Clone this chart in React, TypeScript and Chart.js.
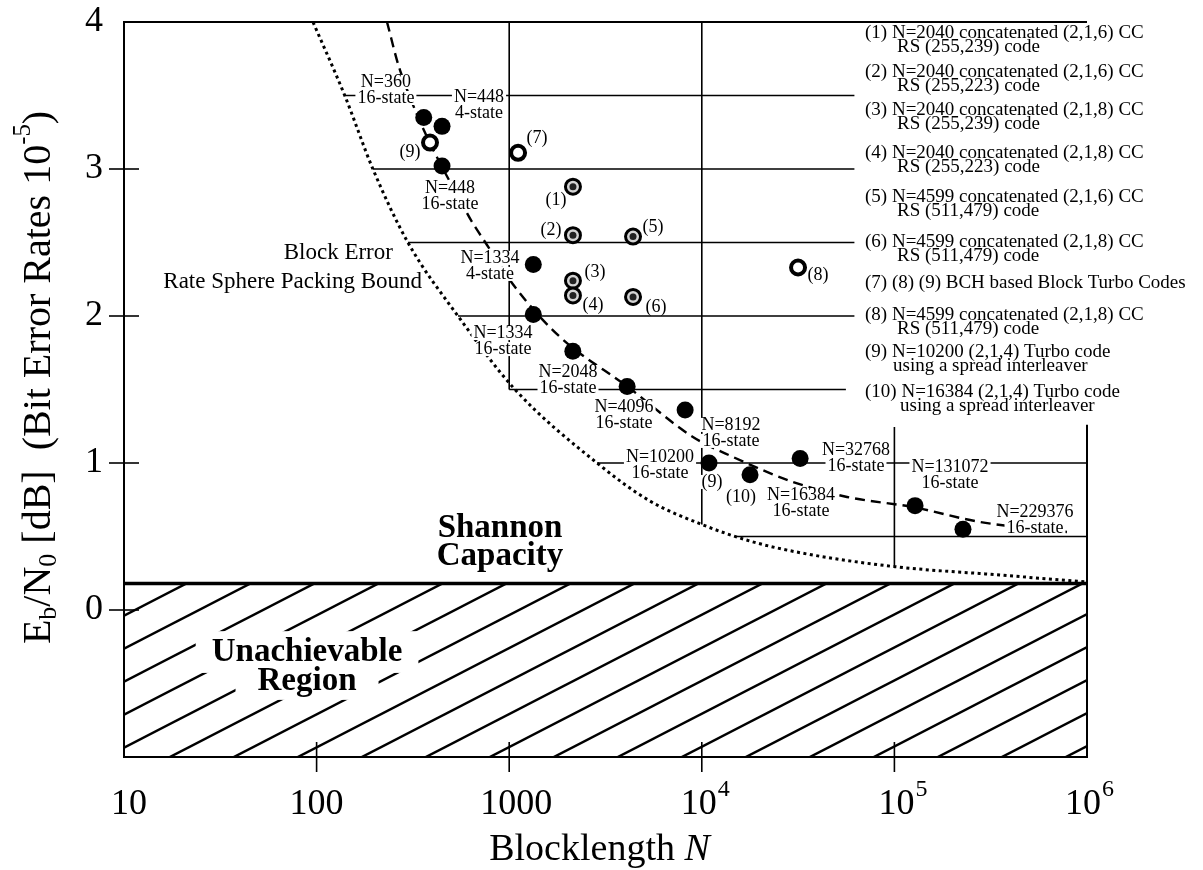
import React, { useEffect, useRef } from 'react';
import { Chart, registerables } from 'chart.js';

Chart.register(...registerables);

const SERIF = '"Liberation Serif", "Times New Roman", "DejaVu Serif", serif';

// ---------- axes ----------
const xTickValues = [10, 100, 1000, 10000, 100000, 1000000];
const xTickBase = ['10', '100', '1000', '10', '10', '10'];
const xTickExp = ['', '', '', '4', '5', '6'];
const xTickShift = [5, 0, 7, -3, 2, -4];
const yTickValues = [0, 1, 2, 3, 4];
const xTickMarks = [100, 1000, 10000, 100000];
const yTickMarks = [0, 1, 2, 3];

// ---------- Shannon capacity ----------
const shannonDb = 0.18;

// ---------- block error rate sphere packing bound (dotted) ----------
const boundN = [95.8, 140, 196, 298, 542, 1072, 2858, 5383, 10000, 17780, 32360, 100000, 353000, 1000000];
const boundDb = [4.0, 3.5, 3.0, 2.5, 2.0, 1.5, 1.0, 0.741, 0.582, 0.469, 0.39, 0.295, 0.238, 0.19];

// ---------- 16-state turbo code trend (dashed) ----------
const trendN = [232, 271, 604, 767, 1072, 1837, 4140, 8995, 14520, 29770, 56750, 125000, 278000, 787000];
const trendDb = [4.0, 3.673, 2.7, 2.483, 2.197, 1.857, 1.517, 1.177, 1.041, 0.871, 0.769, 0.7, 0.599, 0.531];

// ---------- turbo codes (filled dots) ----------
const turboN = [360, 448, 448, 1334, 1334, 2140, 4096, 8192, 10900, 17800, 32400, 128000, 227000];
const turboDb = [3.35, 3.29, 3.02, 2.35, 2.01, 1.76, 1.52, 1.36, 1.0, 0.92, 1.03, 0.71, 0.55];

// ---------- BCH block turbo codes (open circles) ----------
const bchN = [388, 1112, 31600];
const bchDb = [3.18, 3.11, 2.33];

// ---------- concatenated codes (double circles) ----------
const concN = [2143, 2143, 2143, 2143, 4395, 4395];
const concDb = [2.88, 2.55, 2.24, 2.14, 2.54, 2.13];

// ---------- partial grid ----------
const hLineDb = [3.5, 3.0, 2.5, 2.0, 1.5, 1.0, 0.5];
const hLineFromN = [140, 196, 298, 542, 1000, 2858, 14870];
const hLineToN = [62000, 62000, 62000, 62000, 56000, 1000000, 1000000];
const vLineN = [1000, 10000, 100000];
const vLineFromDb = [4, 4, 1.245];
const vLineToDb = [1.5, 0.582, 0.295];

// ---------- point labels ----------
const stateTop = ['N=360', 'N=448', 'N=448', 'N=1334', 'N=1334', 'N=2048', 'N=4096', 'N=8192', 'N=10200', 'N=16384', 'N=32768', 'N=131072', 'N=229376'];
const stateBottom = ['16-state', '4-state', '16-state', '4-state', '16-state', '16-state', '16-state', '16-state', '16-state', '16-state', '16-state', '16-state', '16-state'];
const stateN = [229, 697, 493, 795, 929, 2020, 3945, 14180, 6067, 32740, 63180, 194400, 537000];
const stateDb = [3.592, 3.49, 2.871, 2.395, 1.884, 1.619, 1.381, 1.259, 1.041, 0.782, 1.088, 0.973, 0.667];

const numText = ['(9)', '(7)', '(1)', '(2)', '(5)', '(3)', '(4)', '(6)', '(8)', '(9)', '(10)'];
const numN = [305, 1394, 1750, 1648, 5585, 2788, 2723, 5781, 40100, 11300, 16000];
const numDb = [3.116, 3.211, 2.789, 2.585, 2.605, 2.299, 2.075, 2.061, 2.279, 0.871, 0.769];

// ---------- legend ----------
const legendFirst = [
  '(1) N=2040 concatenated (2,1,6) CC',
  '(2) N=2040 concatenated (2,1,6) CC',
  '(3) N=2040 concatenated (2,1,8) CC',
  '(4) N=2040 concatenated (2,1,8) CC',
  '(5) N=4599 concatenated (2,1,6) CC',
  '(6) N=4599 concatenated (2,1,8) CC',
  '(7) (8) (9) BCH based Block Turbo Codes',
  '(8) N=4599 concatenated (2,1,8) CC',
  '(9) N=10200 (2,1,4) Turbo code',
  '(10) N=16384 (2,1,4) Turbo code',
];
const legendSecond = [
  'RS (255,239) code',
  'RS (255,223) code',
  'RS (255,239) code',
  'RS (255,223) code',
  'RS (511,479) code',
  'RS (511,479) code',
  '',
  'RS (511,479) code',
  'using a spread interleaver',
  'using a spread interleaver',
];
const legendY = [33, 72, 110, 153, 197, 242, 283, 315, 352, 392];
const legendIndent = [32, 32, 32, 32, 32, 32, 0, 32, 28, 35];

const LABEL_LAYER = 4;

function pts(xs: number[], ys: number[]) {
  return xs.map((x, i) => ({ x, y: ys[i] }));
}

function makeHatch(): CanvasPattern | string {
  const W = 64, H = 33, off = 38;
  const c = document.createElement('canvas');
  c.width = W; c.height = H;
  const g = c.getContext('2d');
  if (!g) return 'rgba(0,0,0,0.2)';
  g.strokeStyle = '#000';
  g.lineWidth = 2.4;
  for (const k of [-1, 0, 1]) {
    const x0 = off + k * W;
    g.beginPath();
    g.moveTo(x0 - W, 2 * H);
    g.lineTo(x0 + 2 * W, -H);
    g.stroke();
  }
  return g.createPattern(c, 'repeat') || '#ccc';
}

function font(size: number, style = '') {
  return `${style} ${size}px ${SERIF}`.trim();
}

function bgText(ctx: CanvasRenderingContext2D, s: string, x: number, y: number, size: number, style = '', padX = 2, padY = 1) {
  ctx.font = font(size, style);
  const w = ctx.measureText(s).width;
  const h = size * 0.78;
  ctx.fillStyle = '#fff';
  ctx.fillRect(x - w / 2 - padX, y - h / 2 - padY, w + 2 * padX, h + 2 * padY);
  ctx.fillStyle = '#000';
  ctx.textAlign = 'center';
  ctx.textBaseline = 'middle';
  ctx.fillText(s, x, y);
}

function drawPlotLabels(chart: any) {
  const { ctx, scales } = chart;
  const xs = scales.x, ys = scales.y;
  ctx.save();
  // Unachievable region
  const ux = xs.getPixelForValue(89.2);
  bgText(ctx, 'Unachievable', ux, ys.getPixelForValue(-0.286), 33, 'bold', 16, 8);
  bgText(ctx, 'Region', ux, ys.getPixelForValue(-0.483), 33, 'bold', 22, 6);
  // state labels
  for (let i = 0; i < stateTop.length; i++) {
    const px = xs.getPixelForValue(stateN[i]);
    const py = ys.getPixelForValue(stateDb[i]);
    bgText(ctx, stateTop[i], px, py, 18, '', 2, 0);
    bgText(ctx, stateBottom[i], px, py + 16, 18, '', 2, 0);
  }
  for (let i = 0; i < numText.length; i++) {
    bgText(ctx, numText[i], xs.getPixelForValue(numN[i]), ys.getPixelForValue(numDb[i]), 18, '', 1, 0);
  }
  ctx.restore();
}

function drawDecor(chart: any) {
  const { ctx, chartArea, scales } = chart;
  const xs = scales.x, ys = scales.y;
  const { left, right, top, bottom } = chartArea;
  ctx.save();
  ctx.fillStyle = '#000';
  ctx.strokeStyle = '#000';
  ctx.textBaseline = 'middle';

  // big annotation texts
  ctx.font = font(23);
  ctx.textAlign = 'right';
  ctx.fillText('Block Error', xs.getPixelForValue(249), ys.getPixelForValue(2.429));
  ctx.fillText('Rate Sphere Packing Bound', xs.getPixelForValue(352.6), ys.getPixelForValue(2.231));
  ctx.font = font(33, 'bold');
  ctx.textAlign = 'center';
  ctx.fillText('Shannon', xs.getPixelForValue(896), ys.getPixelForValue(0.558));
  ctx.fillText('Capacity', xs.getPixelForValue(896), ys.getPixelForValue(0.367));

  // tick marks
  ctx.lineWidth = 1.6;
  for (const v of yTickMarks) {
    const py = ys.getPixelForValue(v);
    ctx.beginPath(); ctx.moveTo(left - 15, py); ctx.lineTo(left + 15, py); ctx.stroke();
  }
  for (const v of xTickMarks) {
    const px = xs.getPixelForValue(v);
    ctx.beginPath(); ctx.moveTo(px, bottom - 15); ctx.lineTo(px, bottom + 15); ctx.stroke();
  }

  // y tick labels
  ctx.font = font(36);
  ctx.textAlign = 'right';
  for (const v of yTickValues) {
    ctx.fillText(String(v), left - 21, ys.getPixelForValue(v));
  }
  // x tick labels
  for (let i = 0; i < xTickValues.length; i++) {
    const px = xs.getPixelForValue(xTickValues[i]) + xTickShift[i];
    const ly = bottom + 48;
    ctx.font = font(36);
    ctx.textAlign = 'center';
    const bw = ctx.measureText(xTickBase[i]).width;
    ctx.fillText(xTickBase[i], px, ly);
    if (xTickExp[i]) {
      ctx.font = font(24);
      ctx.textAlign = 'left';
      ctx.fillText(xTickExp[i], px + bw / 2 + 1, ly - 15);
    }
  }

  // x title
  ctx.font = font(38);
  const t1 = 'Blocklength ';
  const w1 = ctx.measureText(t1).width;
  ctx.font = font(38, 'italic');
  const w2 = ctx.measureText('N').width;
  const cx = (left + right) / 2 - 6;
  const sx = cx - (w1 + w2) / 2;
  ctx.textAlign = 'left';
  ctx.font = font(38);
  ctx.fillText(t1, sx, bottom + 93);
  ctx.font = font(38, 'italic');
  ctx.fillText('N', sx + w1, bottom + 93);

  // y title (rotated)
  const fs = 40;
  const parts = [
    { t: 'E', s: 1, dy: 0 },
    { t: 'b', s: 0.65, dy: 0.25 },
    { t: '/N', s: 1, dy: 0 },
    { t: '0', s: 0.65, dy: 0.25 },
    { t: ' [dB]  (Bit Error Rates 10', s: 1, dy: 0 },
    { t: '-5', s: 0.62, dy: -0.38 },
    { t: ')', s: 1, dy: 0 },
  ];
  let total = 0;
  const widths = parts.map((p) => {
    ctx.font = font(fs * p.s);
    const w = ctx.measureText(p.t).width;
    total += w;
    return w;
  });
  ctx.translate(39, (top + bottom) / 2 - 12);
  ctx.rotate(-Math.PI / 2);
  let pos = -total / 2;
  ctx.textAlign = 'left';
  parts.forEach((p, i) => {
    ctx.font = font(fs * p.s);
    ctx.fillText(p.t, pos, p.dy * fs);
    pos += widths[i];
  });
  ctx.setTransform(1, 0, 0, 1, 0, 0);

  // legend
  ctx.font = font(19);
  ctx.textAlign = 'left';
  for (let i = 0; i < legendFirst.length; i++) {
    ctx.fillText(legendFirst[i], 865, legendY[i]);
    if (legendSecond[i]) ctx.fillText(legendSecond[i], 865 + legendIndent[i], legendY[i] + 14);
  }
  ctx.restore();
}

const decorPlugin = {
  id: 'decor',
  afterDatasetDraw(chart: any, args: any) {
    if (args.index === LABEL_LAYER) drawPlotLabels(chart);
  },
  afterDraw(chart: any) {
    drawDecor(chart);
  },
};

export default function App() {
  const ref = useRef<HTMLCanvasElement>(null);
  useEffect(() => {
    document.body.style.margin = '0';
    const canvas = ref.current;
    if (!canvas) return;

    const gridData: any[] = [];
    hLineDb.forEach((d, i) => {
      gridData.push({ x: hLineFromN[i], y: d }, { x: hLineToN[i], y: d }, { x: hLineToN[i], y: null });
    });
    vLineN.forEach((n, i) => {
      gridData.push({ x: n, y: vLineFromDb[i] }, { x: n, y: vLineToDb[i] }, { x: n, y: null });
    });

    const pointDs = (data: any[], r: number, bg: string, bw: number) => ({
      type: 'line',
      data,
      showLine: false,
      pointStyle: 'circle',
      pointRadius: r,
      pointHoverRadius: r,
      pointBackgroundColor: bg,
      pointBorderColor: '#000',
      pointBorderWidth: bw,
    });
    const lineDs = (data: any[], width: number, dash: number[], extra: any = {}) => ({
      type: 'line',
      data,
      borderColor: '#000',
      borderWidth: width,
      borderDash: dash,
      pointRadius: 0,
      pointHoverRadius: 0,
      fill: false,
      spanGaps: false,
      ...extra,
    });

    const chart = new Chart(canvas, {
      type: 'line',
      data: {
        datasets: [
          pointDs(pts(concN, concDb), 3.5, '#222', 0),
          pointDs(pts(concN, concDb), 7.5, '#d4d4d4', 3),
          pointDs(pts(bchN, bchDb), 7, '#fff', 4),
          pointDs(pts(turboN, turboDb), 8.5, '#000', 0),
          lineDs(pts(trendN, trendDb), 2.4, [10, 6], { cubicInterpolationMode: 'monotone' }),
          lineDs(pts(boundN, boundDb), 3, [3, 3.5], { cubicInterpolationMode: 'monotone' }),
          lineDs([{ x: 10, y: shannonDb }, { x: 1000000, y: shannonDb }], 3.5, [], { fill: 'start', backgroundColor: makeHatch() }),
          lineDs(gridData, 1.6, []),
          lineDs([{ x: 10, y: 4 }, { x: 1000000, y: 4 }], 2, [], { clip: false }),
          lineDs([{ x: 1000000, y: 1.26 }, { x: 1000000, y: -1 }], 2, [], { clip: false }),
        ] as any,
      },
      options: {
        responsive: false,
        animation: false,
        events: [],
        layout: { padding: { left: 0, right: 116, top: 22, bottom: 0 } },
        plugins: { legend: { display: false }, tooltip: { enabled: false } },
        scales: {
          x: {
            type: 'logarithmic',
            min: 10,
            max: 1000000,
            afterFit: (s: any) => { s.height = 113; },
            ticks: { display: false },
            grid: { display: false },
            border: { display: true, color: '#000', width: 2 },
          },
          y: {
            type: 'linear',
            min: -1,
            max: 4,
            afterFit: (s: any) => { s.width = 124; },
            ticks: { display: false },
            grid: { display: false },
            border: { display: true, color: '#000', width: 2 },
          },
        },
      } as any,
      plugins: [decorPlugin],
    });
    return () => chart.destroy();
  }, []);
  return <canvas ref={ref} width={1203} height={870} style={{ display: 'block', width: 1203, height: 870 }} />;
}
